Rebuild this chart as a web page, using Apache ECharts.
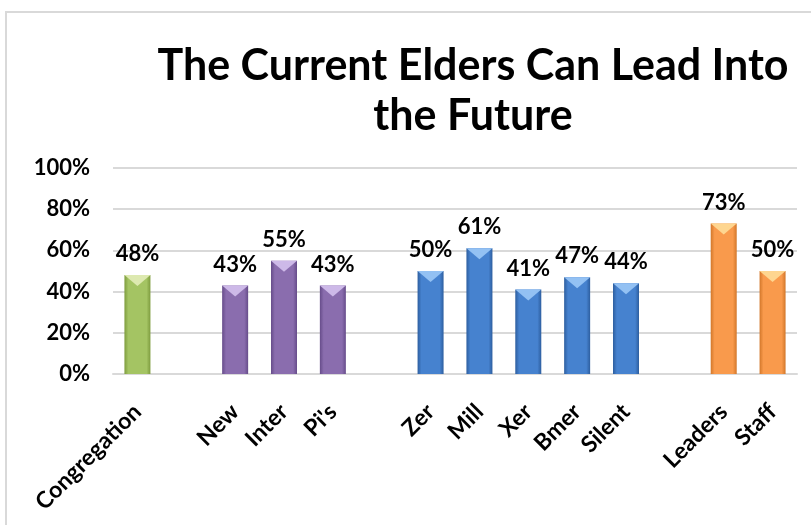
<!DOCTYPE html>
<html>
<head>
<meta charset="utf-8">
<script src="https://cdn.jsdelivr.net/npm/echarts@6/dist/echarts.min.js"></script>
<style>
  html, body { margin: 0; padding: 0; background: #fff; }
  #chart { width: 811px; height: 525px; }
</style>
</head>
<body>
<div id="chart"></div>
<script>
// Survey groups along the x axis; empty names separate the groups
const categories = ['Congregation', '', 'New', 'Inter', "Pi's", '', 'Zer', 'Mill', 'Xer', 'Bmer', 'Silent', '', 'Leaders', 'Staff'];
// Share agreeing, in percent (null = spacer)
const values = [48, null, 43, 55, 43, null, 50, 61, 41, 47, 44, null, 73, 50];
// Y axis ticks, in percent
const yTicks = [0, 20, 40, 60, 80, 100];

// Colour family for each category: [edge, centre, top highlight]
const palettes = {
  green:  ['#7E9C3E', '#A4C463', '#DDE9B0'],
  purple: ['#664C8A', '#8A6DAE', '#CDB9E8'],
  blue:   ['#2D5E9F', '#4682CF', '#93C1F3'],
  orange: ['#D2772A', '#F99A4C', '#FED690']
};
const families = ['green', null, 'purple', 'purple', 'purple', null, 'blue', 'blue', 'blue', 'blue', 'blue', null, 'orange', 'orange'];

function barFill(f) {
  const p = palettes[f];
  return new echarts.graphic.LinearGradient(0, 0, 1, 0, [
    { offset: 0, color: p[0] },
    { offset: 0.15, color: p[1] },
    { offset: 0.85, color: p[1] },
    { offset: 1, color: p[0] }
  ]);
}

const barData = values.map((v, i) => (v == null ? null : {
  value: v,
  itemStyle: { color: barFill(families[i]) }
}));
const capData = values.map((v, i) => (v == null ? null : {
  value: v,
  itemStyle: { color: palettes[families[i]][2] }
}));

const font = 'Lato, "Open Sans", sans-serif';
const chart = echarts.init(document.getElementById('chart'));
chart.setOption({
  animation: false,
  title: {
    text: 'The Current Elders Can Lead Into\nthe Future',
    left: 468,
    textAlign: 'center',
    top: 36,
    textStyle: { fontFamily: font, fontSize: 43, fontWeight: 'bold', color: '#000', lineHeight: 50 }
  },
  graphic: [{
    type: 'rect',
    shape: { x: 6, y: 12, width: 830, height: 540 },
    style: { fill: 'none', stroke: '#d9d9d9', lineWidth: 2 },
    silent: true
  }],
  grid: { left: 113, right: 14, top: 168, bottom: 151 },
  xAxis: {
    type: 'category',
    data: categories,
    axisLine: { lineStyle: { color: '#d9d9d9', width: 2 } },
    axisTick: { show: false },
    axisLabel: {
      interval: 0, rotate: 45, margin: 34,
      fontFamily: font, fontSize: 23, fontWeight: 'bold', color: '#000'
    }
  },
  yAxis: {
    type: 'value',
    min: yTicks[0], max: yTicks[yTicks.length - 1], interval: yTicks[1] - yTicks[0],
    axisLine: { show: false },
    axisTick: { show: false },
    splitLine: { lineStyle: { color: '#d9d9d9', width: 2 } },
    axisLabel: {
      margin: 23, formatter: '{value}%',
      fontFamily: font, fontSize: 22, fontWeight: 'bold', color: '#000'
    }
  },
  series: [{
    type: 'bar',
    data: barData,
    barWidth: 26,
    barGap: '-100%',
    label: {
      show: true, position: 'top', distance: 10,
      formatter: p => (p.value == null ? '' : p.value + '%'),
      fontFamily: font, fontSize: 22, fontWeight: 'bold', color: '#000'
    }
  }, {
    // bevelled highlight at the top of each bar
    type: 'pictorialBar',
    data: capData,
    barWidth: 26,
    barGap: '-100%',
    symbol: 'path://M0,0 L10,0 L5,4 Z',
    symbolSize: [26, 11],
    symbolPosition: 'end',
    z: 3,
    silent: true
  }]
});
</script>
</body>
</html>
